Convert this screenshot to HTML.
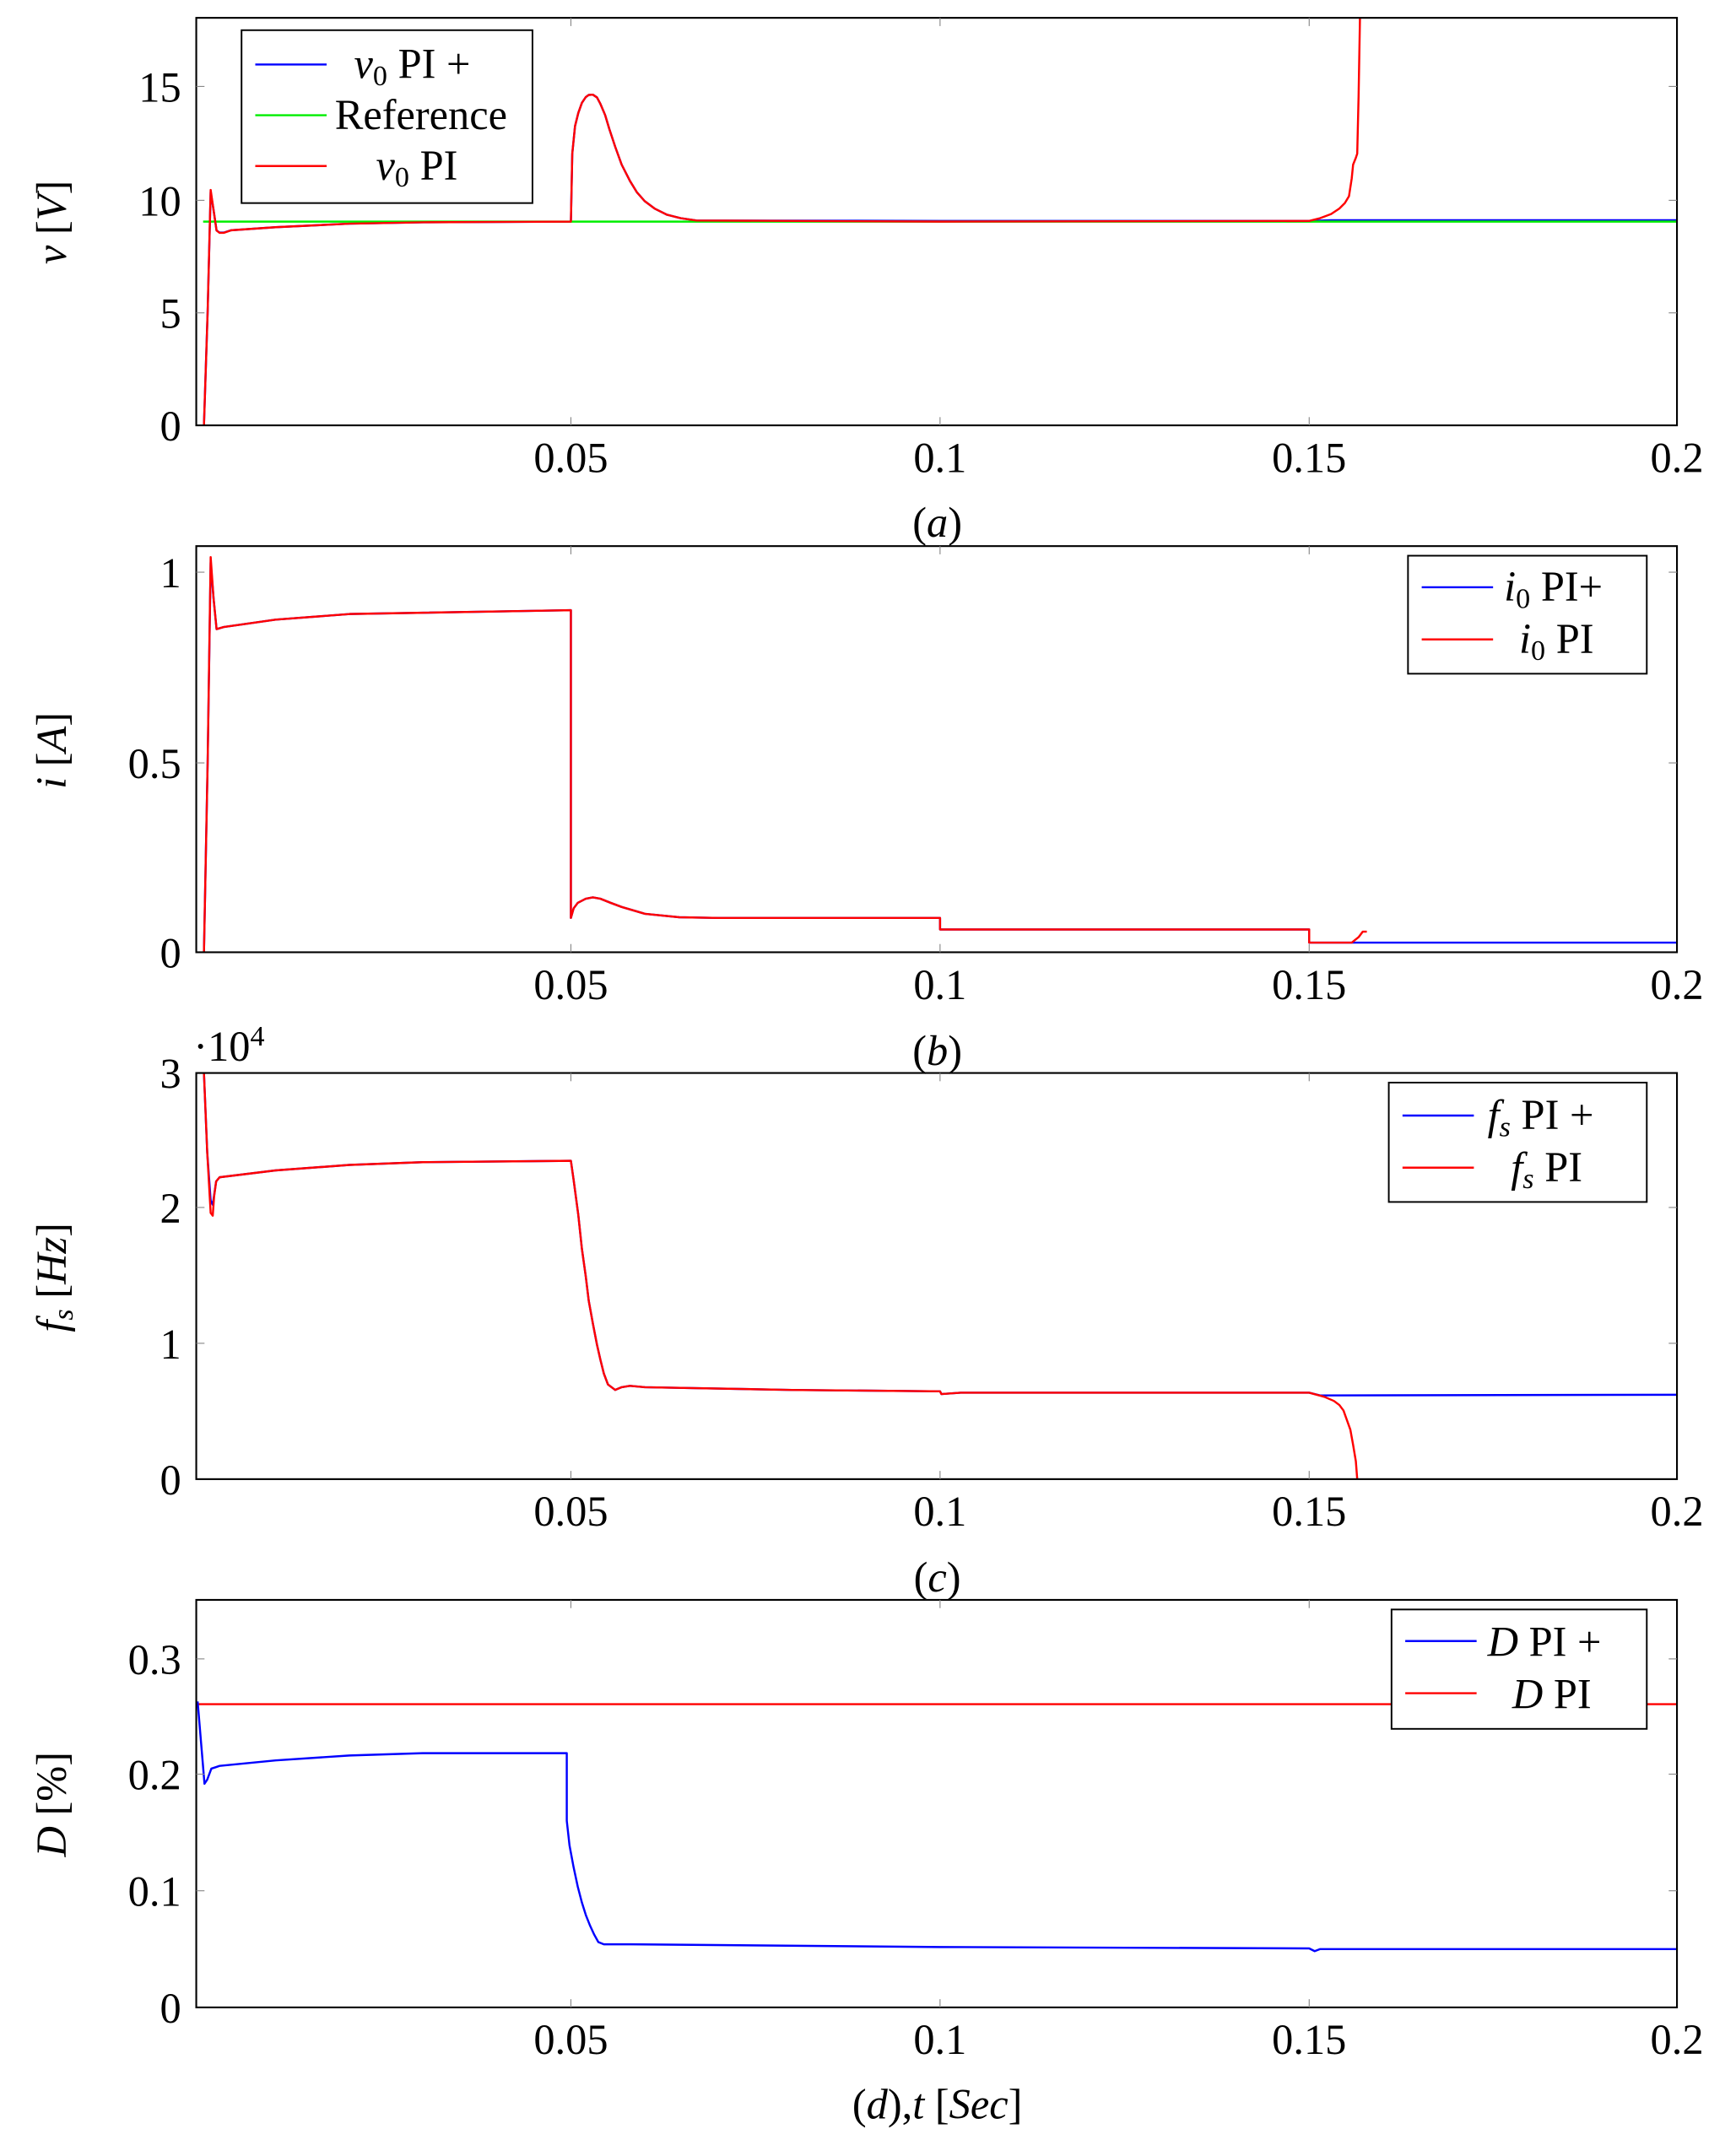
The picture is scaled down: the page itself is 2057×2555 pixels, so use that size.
<!DOCTYPE html>
<html><head><meta charset="utf-8"><style>
html,body{margin:0;padding:0;background:#fff;}
svg{display:block;}
text{font-family:"Liberation Serif",serif;fill:#000;}
.t{font-size:31px;}
.s{font-size:21px;}
.ax{fill:none;stroke:#000;stroke-width:1.3;}
.tk{stroke:#888;stroke-width:0.7;}
.d{fill:none;stroke-width:1.5;stroke-linejoin:round;}
.lg{fill:#fff;stroke:#000;stroke-width:1.2;}
.it{font-style:italic;}
</style></head><body>
<svg width="2057" height="2555" viewBox="0 0 1265 1571.3" xmlns="http://www.w3.org/2000/svg">
<!-- ===== Plot a ===== -->
<g>
<polyline class="d" stroke="#0000ff" points="148.6,310 151.3,227 153.5,140 155.6,153 157.8,168 160,169.5 163,169.5 168.5,167.8 200.8,165.6 254.6,163 308.4,162 416,161.5 417,112 419,92 421.4,82.3 424,75 426.8,70.8 429,69.2 432,69 435,71 437.5,75.7 441,84 444,94 448.3,107 453,120 459,131.8 464,140 469.8,146.6 477,152 486,156.5 496,159 507.5,160.7 685,161 954,161 970,160.5 1222,160.5"/>
<line x1="148" y1="161.5" x2="1222" y2="161.5" stroke="#00ee00" stroke-width="1.5"/>
<polyline class="d" stroke="#ff0000" points="148.6,310 151.3,227 153.5,138.4 155.6,153 157.8,168 160,169.7 163,169.7 168.5,167.8 200.8,165.6 254.6,163 308.4,162 416,161.5 417,112 419,92 421.4,82.3 424,75 426.8,70.8 429,69.2 432,69 435,71 437.5,75.7 441,84 444,94 448.3,107 453,120 459,131.8 464,140 469.8,146.6 477,152 486,156.5 496,159 507.5,160.7 685,161.5 954,161 962,159 970,156 976,152 980,148 983,143 985,130 986,120 988,115 989,112 990,70 991,13"/>
<rect class="ax" x="143" y="13" width="1079" height="297"/>
<g class="tk">
<line x1="416" y1="13" x2="416" y2="19"/><line x1="685" y1="13" x2="685" y2="19"/><line x1="954" y1="13" x2="954" y2="19"/>
<line x1="416" y1="310" x2="416" y2="304"/><line x1="685" y1="310" x2="685" y2="304"/><line x1="954" y1="310" x2="954" y2="304"/>
<line x1="143" y1="63" x2="149" y2="63"/><line x1="143" y1="146" x2="149" y2="146"/><line x1="143" y1="228" x2="149" y2="228"/>
<line x1="1222" y1="63" x2="1216" y2="63"/><line x1="1222" y1="146" x2="1216" y2="146"/><line x1="1222" y1="228" x2="1216" y2="228"/>
</g>
<g class="t" text-anchor="end"><text x="132" y="74">15</text><text x="132" y="157">10</text><text x="132" y="239">5</text><text x="132" y="321">0</text></g>
<g class="t" text-anchor="middle"><text x="416" y="344">0.05</text><text x="685" y="344">0.1</text><text x="954" y="344">0.15</text><text x="1222" y="344">0.2</text></g>
<text class="t" x="683" y="391" text-anchor="middle">(<tspan class="it">a</tspan>)</text>
<text class="t" transform="translate(48,162) rotate(-90)" text-anchor="middle"><tspan class="it">v</tspan> [<tspan class="it">V</tspan>]</text>
<rect class="lg" x="176" y="22" width="212" height="126"/>
<line x1="186" y1="47" x2="238" y2="47" stroke="#0000ff" stroke-width="1.5"/>
<line x1="186" y1="84" x2="238" y2="84" stroke="#00ee00" stroke-width="1.5"/>
<line x1="186" y1="121" x2="238" y2="121" stroke="#ff0000" stroke-width="1.5"/>
<text class="t" x="258" y="57"><tspan class="it">v</tspan><tspan class="s" dy="5">0</tspan><tspan dy="-5"> PI +</tspan></text>
<text class="t" x="244" y="94">Reference</text>
<text class="t" x="274" y="131"><tspan class="it">v</tspan><tspan class="s" dy="5">0</tspan><tspan dy="-5"> PI</tspan></text>
</g>
<!-- ===== Plot b ===== -->
<g>
<polyline class="d" stroke="#0000ff" points="148.6,694 151.3,555.5 153.5,410 155.6,436 157.8,458.5 163,457 200.8,451.6 254.6,447.5 416,444.7 416,669 418,662 421,658 426.8,655 432,654 437.5,655 445,658 453,661 470,666 495,668.5 523,669 685,669 685,677.4 954,677.4 954,687 1222,687"/>
<polyline class="d" stroke="#ff0000" points="148.6,694 151.3,555.5 153.5,406 155.6,436 157.8,458.5 163,457 200.8,451.6 254.6,447.5 416,444.7 416,669 418,662 421,658 426.8,655 432,654 437.5,655 445,658 453,661 470,666 495,668.5 523,669 685,669 685,677.4 954,677.4 954,687 985,687 990,683 993,679 996,679"/>
<rect class="ax" x="143" y="398" width="1079" height="296"/>
<g class="tk">
<line x1="416" y1="398" x2="416" y2="404"/><line x1="685" y1="398" x2="685" y2="404"/><line x1="954" y1="398" x2="954" y2="404"/>
<line x1="416" y1="694" x2="416" y2="688"/><line x1="685" y1="694" x2="685" y2="688"/><line x1="954" y1="694" x2="954" y2="688"/>
<line x1="143" y1="417" x2="149" y2="417"/><line x1="143" y1="556" x2="149" y2="556"/>
<line x1="1222" y1="417" x2="1216" y2="417"/><line x1="1222" y1="556" x2="1216" y2="556"/>
</g>
<g class="t" text-anchor="end"><text x="132" y="428">1</text><text x="132" y="567">0.5</text><text x="132" y="705">0</text></g>
<g class="t" text-anchor="middle"><text x="416" y="728">0.05</text><text x="685" y="728">0.1</text><text x="954" y="728">0.15</text><text x="1222" y="728">0.2</text></g>
<text class="t" x="683" y="776" text-anchor="middle">(<tspan class="it">b</tspan>)</text>
<text class="t" transform="translate(48,547) rotate(-90)" text-anchor="middle"><tspan class="it">i</tspan> [<tspan class="it">A</tspan>]</text>
<rect class="lg" x="1026" y="405" width="174" height="86"/>
<line x1="1036" y1="428" x2="1088" y2="428" stroke="#0000ff" stroke-width="1.5"/>
<line x1="1036" y1="466" x2="1088" y2="466" stroke="#ff0000" stroke-width="1.5"/>
<text class="t" x="1096" y="438"><tspan class="it">i</tspan><tspan class="s" dy="5">0</tspan><tspan dy="-5"> PI+</tspan></text>
<text class="t" x="1107" y="476"><tspan class="it">i</tspan><tspan class="s" dy="5">0</tspan><tspan dy="-5"> PI</tspan></text>
</g>
<!-- ===== Plot c ===== -->
<g>
<polyline class="d" stroke="#0000ff" points="148.6,782 151,840 153.5,875 155,878 157.5,861 160,858 200.8,853 254.6,849 308,847 416,846 418,860 421.4,885.5 424,910 426.8,930 429,948 432,964.5 435,980 437.5,991 440,1001 443,1009 448.3,1013 453,1011 459,1010 470,1011 577,1013 685,1014 686,1016 700,1015 954,1015 962,1017 1222,1016.5"/>
<polyline class="d" stroke="#ff0000" points="148.6,782 151,840 153.5,884 155,886 156,872 157.5,861 160,858 200.8,853 254.6,849 308,847 416,846 418,860 421.4,885.5 424,910 426.8,930 429,948 432,964.5 435,980 437.5,991 440,1001 443,1009 448.3,1013 453,1011 459,1010 470,1011 577,1013 685,1014 686,1016 700,1015 954,1015 965,1018 972,1021 976,1024 979,1028 981,1033.6 984,1042 986,1053 988,1065 989,1078"/>
<rect class="ax" x="143" y="782" width="1079" height="296"/>
<g class="tk">
<line x1="416" y1="782" x2="416" y2="788"/><line x1="685" y1="782" x2="685" y2="788"/><line x1="954" y1="782" x2="954" y2="788"/>
<line x1="416" y1="1078" x2="416" y2="1072"/><line x1="685" y1="1078" x2="685" y2="1072"/><line x1="954" y1="1078" x2="954" y2="1072"/>
<line x1="143" y1="880" x2="149" y2="880"/><line x1="143" y1="979" x2="149" y2="979"/>
<line x1="1222" y1="880" x2="1216" y2="880"/><line x1="1222" y1="979" x2="1216" y2="979"/>
</g>
<g class="t" text-anchor="end"><text x="132" y="793">3</text><text x="132" y="891">2</text><text x="132" y="990">1</text><text x="132" y="1089">0</text></g>
<text class="t" x="141" y="773">·10<tspan class="s" dy="-11">4</tspan></text>
<g class="t" text-anchor="middle"><text x="416" y="1112">0.05</text><text x="685" y="1112">0.1</text><text x="954" y="1112">0.15</text><text x="1222" y="1112">0.2</text></g>
<text class="t" x="683" y="1160" text-anchor="middle">(<tspan class="it">c</tspan>)</text>
<text class="t" transform="translate(48,931) rotate(-90)" text-anchor="middle"><tspan class="it">f</tspan><tspan class="it s" dy="5">s</tspan><tspan dy="-5"> [</tspan><tspan class="it">Hz</tspan>]</text>
<rect class="lg" x="1012" y="789" width="188" height="87"/>
<line x1="1022" y1="813" x2="1074" y2="813" stroke="#0000ff" stroke-width="1.5"/>
<line x1="1022" y1="851" x2="1074" y2="851" stroke="#ff0000" stroke-width="1.5"/>
<text class="t" x="1084" y="823"><tspan class="it">f</tspan><tspan class="it s" dy="5">s</tspan><tspan dy="-5"> PI +</tspan></text>
<text class="t" x="1101" y="861"><tspan class="it">f</tspan><tspan class="it s" dy="5">s</tspan><tspan dy="-5"> PI</tspan></text>
</g>
<!-- ===== Plot d ===== -->
<g>
<line x1="143" y1="1242" x2="1222" y2="1242" stroke="#ff0000" stroke-width="1.5"/>
<polyline class="d" stroke="#0000ff" points="144,1240 147,1276 149,1300 151,1297 154,1289 160,1287 200.8,1283 254.6,1279.4 308,1277.7 413,1277.7 413,1327 415,1345 418,1361 421,1375 424,1386.5 427,1396 430,1403.5 433,1410 436,1415.4 440,1417 460,1417 685,1419 954,1420 958,1422 962,1420.5 1222,1420.5"/>
<rect class="ax" x="143" y="1166" width="1079" height="297"/>
<g class="tk">
<line x1="416" y1="1166" x2="416" y2="1172"/><line x1="685" y1="1166" x2="685" y2="1172"/><line x1="954" y1="1166" x2="954" y2="1172"/>
<line x1="416" y1="1463" x2="416" y2="1457"/><line x1="685" y1="1463" x2="685" y2="1457"/><line x1="954" y1="1463" x2="954" y2="1457"/>
<line x1="143" y1="1209" x2="149" y2="1209"/><line x1="143" y1="1293" x2="149" y2="1293"/><line x1="143" y1="1378" x2="149" y2="1378"/>
<line x1="1222" y1="1209" x2="1216" y2="1209"/><line x1="1222" y1="1293" x2="1216" y2="1293"/><line x1="1222" y1="1378" x2="1216" y2="1378"/>
</g>
<g class="t" text-anchor="end"><text x="132" y="1220">0.3</text><text x="132" y="1304">0.2</text><text x="132" y="1389">0.1</text><text x="132" y="1474">0</text></g>
<g class="t" text-anchor="middle"><text x="416" y="1497">0.05</text><text x="685" y="1497">0.1</text><text x="954" y="1497">0.15</text><text x="1222" y="1497">0.2</text></g>
<text class="t" x="683" y="1544" text-anchor="middle">(<tspan class="it">d</tspan>),<tspan class="it">t</tspan> [<tspan class="it">Sec</tspan>]</text>
<text class="t" transform="translate(48,1315) rotate(-90)" text-anchor="middle"><tspan class="it">D</tspan> [%]</text>
<rect class="lg" x="1014" y="1173" width="186" height="87"/>
<line x1="1024" y1="1196" x2="1076" y2="1196" stroke="#0000ff" stroke-width="1.5"/>
<line x1="1024" y1="1234" x2="1076" y2="1234" stroke="#ff0000" stroke-width="1.5"/>
<text class="t" x="1084" y="1207"><tspan class="it">D</tspan> PI +</text>
<text class="t" x="1102" y="1245"><tspan class="it">D</tspan> PI</text>
</g>
</svg>
</body></html>
